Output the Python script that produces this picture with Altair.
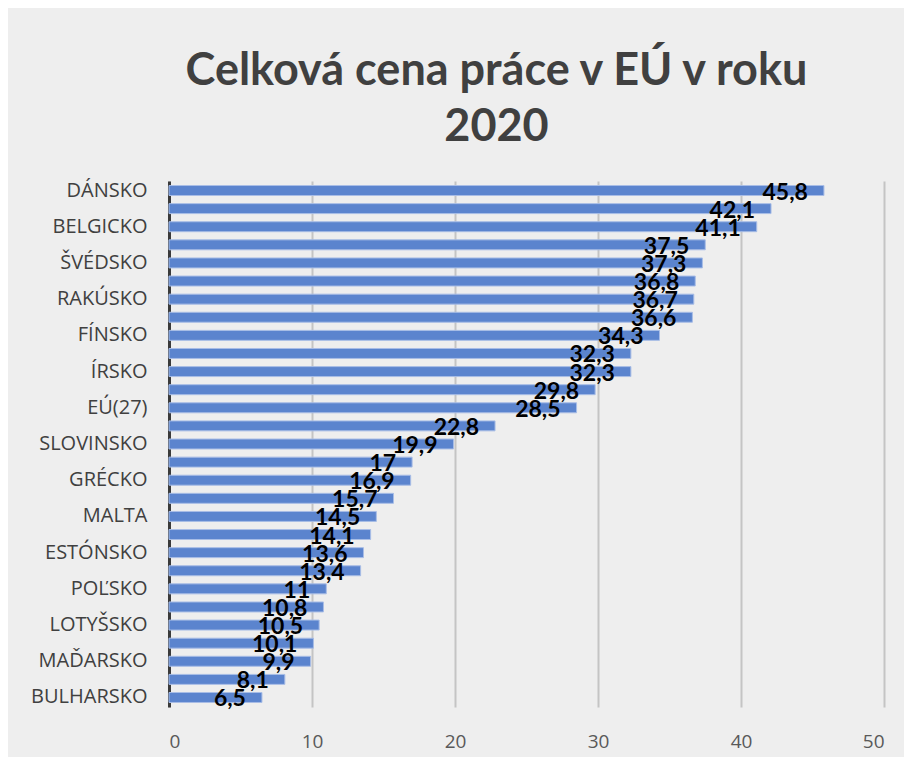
import altair as alt
import pandas as pd

countries = ["DÁNSKO", "LUXEMBURSKO", "BELGICKO", "FRANCÚZSKO", "ŠVÉDSKO", "HOLANDSKO",
             "RAKÚSKO", "NEMECKO", "FÍNSKO", "EUROZÓNA", "ÍRSKO", "TALIANSKO", "EÚ(27)",
             "ŠPANIELSKO", "SLOVINSKO", "CYPRUS", "GRÉCKO", "PORTUGALSKO", "MALTA",
             "ČESKO", "ESTÓNSKO", "SLOVENSKO", "POĽSKO", "CHORVÁTSKO", "LOTYŠSKO",
             "LITVA", "MAĎARSKO", "RUMUNSKO", "BULHARSKO"]
values = [45.8, 42.1, 41.1, 37.5, 37.3, 36.8, 36.7, 36.6, 34.3, 32.3, 32.3, 29.8, 28.5,
          22.8, 19.9, 17, 16.9, 15.7, 14.5, 14.1, 13.6, 13.4, 11, 10.8, 10.5, 10.1, 9.9,
          8.1, 6.5]
shown_labels = countries[::2]
x_ticks = [0, 10, 20, 30, 40, 50]

df = pd.DataFrame({"krajina": countries, "hodnota": values})

y_enc = alt.Y("krajina:N", sort=None, title=None,
              scale=alt.Scale(paddingInner=0.45, paddingOuter=0.25),
              axis=alt.Axis(values=shown_labels, labelFont="Open Sans", labelFontSize=20,
                            labelColor="#404040", labelPadding=22, ticks=False,
                            domainColor="#3a3a3a", domainWidth=3, grid=False))
x_enc = alt.X("hodnota:Q", title=None,
              scale=alt.Scale(domain=[0, 50], nice=False),
              axis=alt.Axis(values=x_ticks, labelFont="Open Sans", labelFontSize=19,
                            labelColor="#595959", labelPadding=25, ticks=False,
                            domain=False, grid=True, gridColor="#c4c4c4", gridWidth=2))

bars = alt.Chart(df).mark_bar(color="#5b84ce", stroke="#a8bde6", strokeWidth=1).encode(
    x=x_enc, y=y_enc)

labels = alt.Chart(df).transform_calculate(
    lbl="replace(toString(datum.hodnota), '.', ',')"
).mark_text(align="right", baseline="middle", dx=-16, dy=2, font="Lato",
            fontWeight="bold", fontSize=23, color="#000000").encode(
    x="hodnota:Q", y=alt.Y("krajina:N", sort=None), text="lbl:N")

chart = alt.layer(bars, labels).properties(
    width=715, height=526,
    title=alt.TitleParams(text=["Celková cena práce v EÚ v roku", "2020"],
                          font="Lato", fontSize=45, fontWeight="bold", color="#404040",
                          lineHeight=56, anchor="middle", dx=-30, offset=30),
    background="#eeeeee",
    padding={"left": 161, "top": 173, "right": 20, "bottom": 50},
    autosize=alt.AutoSizeParams(type="none"),
).configure_view(stroke=None)

chart.save("out.html", embed_options={"renderer": "svg", "actions": False})
